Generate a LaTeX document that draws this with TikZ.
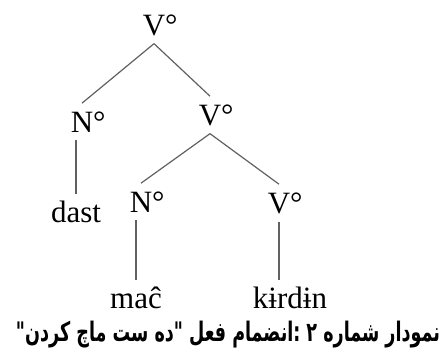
\documentclass[tikz,border=0pt]{standalone}
\usepackage{fontspec}
\usepackage{graphicx}
\setmainfont{Liberation Serif}
\newfontfamily\arabicfont[Script=Arabic]{DejaVu Sans}
\TeXXeTstate=1
\begin{document}
\begin{tikzpicture}[x=1pt,y=-1pt,
  cat/.style={font=\fontsize{31}{31}\selectfont, inner sep=8pt, anchor=base},
  word/.style={font=\fontsize{31}{31}\selectfont, inner sep=6pt, anchor=base},
  branch/.style={draw=black!62, line width=1.2pt}]
\useasboundingbox[fill=white] (0,0) rectangle (446,354);
\node[cat] (v1) at (154,35) {V\rlap{°}};
\node[cat] (n1) at (82,132) {N\rlap{°}};
\node[cat] (v2) at (210,125) {V\rlap{°}};
\node[cat] (n2) at (141,212) {N\rlap{°}};
\node[cat] (v3) at (279,213) {V\rlap{°}};
\node[word] (dast) at (76,222) {dast};
\node[word] (mac) at (136,308) {maĉ};
\node[word] (kirdin) at (290,308) {kɨrdɨn};
\node[font=\arabicfont\bfseries\fontsize{19}{19}\selectfont, inner sep=0pt] (cap) at (228,335)
  {\resizebox*{424pt}{27pt}{\beginR نمودار شماره ۲ :انضمام فعل "ده ست ماچ کردن"\endR}};
\draw[branch] (v1.south) -- (n1.north);
\draw[branch] (v1.south) -- (v2.north);
\draw[branch] (v2.south) -- (n2.north);
\draw[branch] (v2.south) -- (v3.north);
\draw[branch] (dast.north) -- (dast.north |- n1.south);
\draw[branch] (mac.north) -- (mac.north |- n2.south);
\draw[branch] (v3.south) -- (v3.south |- kirdin.north);
\end{tikzpicture}
\end{document}
